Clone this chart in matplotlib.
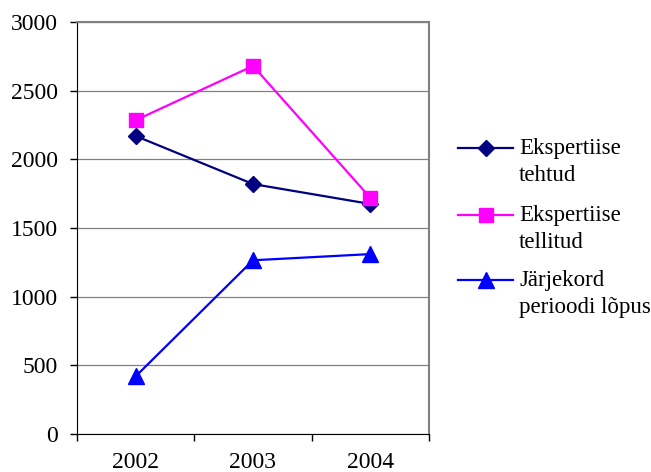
import matplotlib.pyplot as plt
from matplotlib.lines import Line2D
import numpy as np

# data
years = ['2002', '2003', '2004']
tehtud = [2170, 1820, 1675]
tellitud = [2285, 2680, 1720]
jarjekord = [420, 1265, 1310]
labels = ['Ekspertiise\ntehtud', 'Ekspertiise\ntellitud', 'Järjekord\nperioodi lõpus']

plt.rcParams['font.family'] = ['Liberation Serif', 'DejaVu Serif']

W, H = 651, 472
fig = plt.figure(figsize=(W/100, H/100), dpi=100)
ax = fig.add_axes([77/W, 38/H, 352/W, 412/H])

styles = [dict(color='#000080', marker='D', ms=8.5),
          dict(color='#FF00FF', marker='s', ms=10.5),
          dict(color='#0000FF', marker='^', ms=11)]

x = np.arange(len(years))
for vals, st in zip([tehtud, tellitud, jarjekord], styles):
    ax.plot(x, vals, lw=1.6, **st)

ax.set_xlim(-0.5, 2.5)
ax.set_ylim(0, 3000)
ax.set_yticks(np.arange(0, 3001, 500))
ax.yaxis.grid(True, color='#808080', lw=0.9)
ax.set_axisbelow(True)

ax.set_xticks([-0.5, 0.5, 1.5, 2.5])
ax.set_xticklabels([])
ax.set_xticks(x, minor=True)
ax.set_xticklabels(years, minor=True)
ax.tick_params(axis='x', which='major', length=5, width=1, direction='out')
ax.tick_params(axis='x', which='minor', length=0, pad=13, labelsize=17)
ax.tick_params(axis='y', length=5, width=1, pad=9, labelsize=17)

ax.spines['top'].set_color('#808080')
ax.spines['right'].set_color('#808080')
ax.spines['top'].set_linewidth(1.5)
ax.spines['right'].set_linewidth(1.5)

# legend drawn by hand, handle lines up with the first text line like Excel
handle_y = [148, 215, 280]
text_y = [162, 229, 294]
for st, lab, hy, ty in zip(styles, labels, handle_y, text_y):
    fig.add_artist(Line2D([458/W, 513/W], [1 - hy/H, 1 - hy/H], lw=1.6,
                          transform=fig.transFigure, color=st['color']))
    fig.add_artist(Line2D([485.5/W], [1 - hy/H], lw=0, transform=fig.transFigure, **st))
    fig.text(519/W, 1 - ty/H, lab, fontsize=16.5, va='center', ha='left',
             linespacing=1.4)

plt.savefig('out.png', dpi=100)
